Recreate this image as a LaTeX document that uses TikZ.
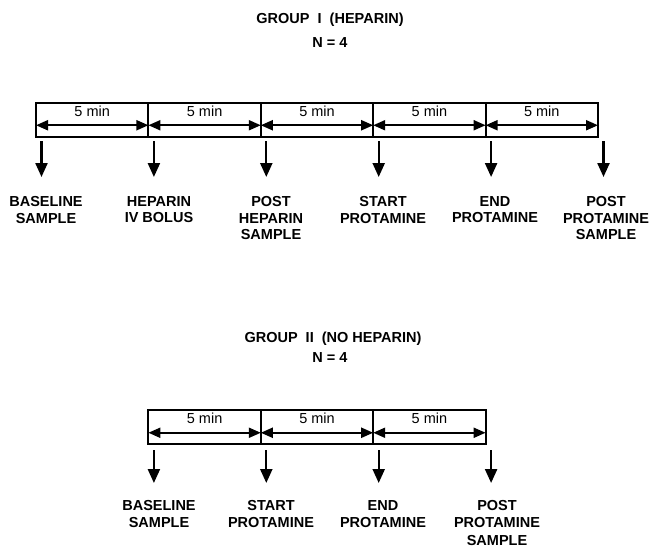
\documentclass[tikz,border=0pt]{standalone}
\usepackage{fontspec}
\setmainfont{Liberation Sans}
\usetikzlibrary{arrows.meta}
\begin{document}
\begin{tikzpicture}[x=1pt,y=-1pt,
  cell/.style={draw, line width=2pt, minimum width=112.4pt, minimum height=33.5pt, inner sep=0pt, anchor=north west},
  mintxt/.style={font=\fontsize{14.5}{16}\selectfont, inner sep=0pt},
  span/.style={line width=2pt, {Triangle[length=12pt,width=10pt]}-{Triangle[length=12pt,width=10pt]}, shorten <=1pt, shorten >=1pt},
  down/.style={line width=2.3pt, -{Triangle[length=14pt,width=12pt]}},
  labI/.style={font=\fontsize{14.5}{16.7}\selectfont\bfseries, align=center, inner sep=0pt, anchor=north},
  labII/.style={font=\fontsize{14.5}{17.6}\selectfont\bfseries, align=center, inner sep=0pt, anchor=north},
  ttl/.style={font=\fontsize{14.5}{17}\selectfont\bfseries, inner sep=0pt}]
\useasboundingbox (0,0) rectangle (650,549);

% ---------- Group I ----------
\node[ttl] (t1) at (330,20) {GROUP\ \ I\ \ (HEPARIN)};
\node[ttl] (n1) at (330,43) {N = 4};
\foreach \i in {0,...,4}{
  \node[cell] (a\i) at ({35+112.4*\i},102) {};
  \draw[span] ([yshift=-5.5pt]a\i.west) -- ([yshift=-5.5pt]a\i.east);
  \node[mintxt] (m\i) at ([yshift=8.5pt]a\i.center) {5 min};
}
\foreach \i in {0,...,5}{
  \coordinate (as\i) at ({35+112.4*\i+6.5},141);
  \coordinate (ae\i) at ({35+112.4*\i+6.5},177);
  \draw[down] (as\i) -- (ae\i);
}
\node[labI] (la0) at (46,196) {BASELINE\\SAMPLE};
\node[labI] (la1) at (159,196) {HEPARIN\\IV BOLUS};
\node[labI] (la2) at (271,196) {POST\\HEPARIN\\SAMPLE};
\node[labI] (la3) at (383,196) {START\\PROTAMINE};
\node[labI] (la4) at (495,196) {END\\PROTAMINE};
\node[labI] (la5) at (606,196) {POST\\PROTAMINE\\SAMPLE};

% ---------- Group II ----------
\node[ttl] (t2) at (333,339) {GROUP\ \ II\ \ (NO HEPARIN)};
\node[ttl] (n2) at (330,358) {N = 4};
\foreach \i in {1,...,3}{
  \node[cell] (b\i) at ({35+112.4*\i},409) {};
  \draw[span] ([yshift=-6pt]b\i.west) -- ([yshift=-6pt]b\i.east);
  \node[mintxt] (k\i) at ([yshift=8.5pt]b\i.center) {5 min};
}
\foreach \i in {1,...,4}{
  \coordinate (bs\i) at ({35+112.4*\i+6.5},450);
  \coordinate (be\i) at ({35+112.4*\i+6.5},483);
  \draw[down] (bs\i) -- (be\i);
}
\node[labII] (lb1) at (159,500) {BASELINE\\SAMPLE};
\node[labII] (lb2) at (271,500) {START\\PROTAMINE};
\node[labII] (lb3) at (383,500) {END\\PROTAMINE};
\node[labII] (lb4) at (497,500) {POST\\PROTAMINE\\SAMPLE};
\end{tikzpicture}
\end{document}
